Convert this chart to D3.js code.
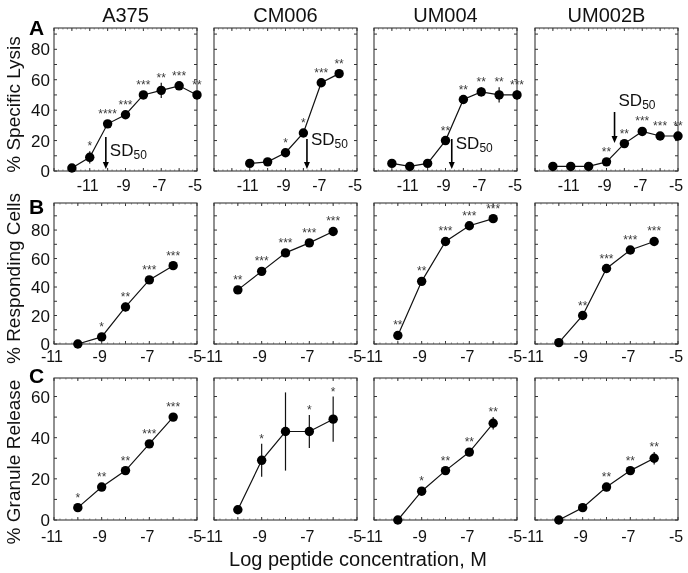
<!DOCTYPE html>
<html><head><meta charset="utf-8">
<script src="https://cdn.jsdelivr.net/npm/d3@7"></script>
<style>body{margin:0;background:#fff}svg{display:block;font-family:"Liberation Sans",Arial,sans-serif;will-change:transform;transform:translateZ(0)}</style>
</head><body>
<svg id="c" width="688" height="573"></svg>
<script>
// ---------- data ----------
const cellLines = ["A375", "CM006", "UM004", "UM002B"];
const rowLabels = ["A", "B", "C"];
const yTitles = ["% Specific Lysis", "% Responding Cells", "% Granule Release"];
const xTitle = "Log peptide concentration, M";
const xTickLabels = [-11, -9, -7, -5];

// Row A: specific lysis
const lysisX = [
  [-12, -11, -10, -9, -8, -7, -6, -5],
  [-11, -10, -9, -8, -7, -6],
  [-12, -11, -10, -9, -8, -7, -6, -5],
  [-12, -11, -10, -9, -8, -7, -6, -5]
];
const lysisY = [
  [2, 9, 31, 37, 50, 53, 56, 50],
  [5, 6, 12, 25, 58, 64],
  [5, 3, 5, 20, 47, 52, 50, 50],
  [3, 3, 3, 6, 18, 26, 23, 23]
];
const lysisErr = [
  [1, 4, 1, 1, 1, 5, 1, 2],
  [1, 1, 1, 2, 1, 1],
  [1, 1, 1, 1, 1, 3, 5, 3],
  [1, 1, 1, 1, 1, 1, 1, 1]
];
const lysisStars = [
  ["", "*", "****", "***", "***", "**", "***", "**"],
  ["", "", "*", "*", "***", "**"],
  ["", "", "", "**", "**", "**", "**", "***"],
  ["", "", "", "**", "**", "***", "***", "**"]
];
const sd50X = [-10.1, -7.8, -8.65, -8.55];

// Row B: responding cells
const respX = [-10, -9, -8, -7, -6];
const respY = [
  [0, 5, 26, 45, 55],
  [38, 51, 64, 71, 79],
  [6, 44, 72, 83, 88],
  [1, 20, 53, 66, 72]
];
const respErr = [
  [0, 1, 3, 1, 1],
  [1, 1, 1, 1, 1],
  [1, 2, 1, 1, 1],
  [0, 1, 1, 1, 1]
];
const respStars = [
  ["", "*", "**", "***", "***"],
  ["**", "***", "***", "***", "***"],
  ["**", "**", "***", "***", "***"],
  ["", "**", "***", "***", "***"]
];

// Row C: granule release
const granX = [-10, -9, -8, -7, -6];
const granY = [
  [6, 16, 24, 37, 50],
  [5, 29, 43, 43, 49],
  [0, 14, 24, 33, 47],
  [0, 6, 16, 24, 30]
];
const granErr = [
  [1, 1, 1, 1, 1],
  [0, 8, 19, 8, 11],
  [0, 1, 1, 2, 3],
  [0, 1, 2, 1, 3]
];
const granStars = [
  ["*", "**", "**", "***", "***"],
  ["", "*", "", "*", "*"],
  ["", "*", "**", "**", "**"],
  ["", "", "**", "**", "**"]
];

// ---------- layout ----------
const svg = d3.select("#c");
const colLeft = [54, 214, 374, 535];
const panelW = 143;
const rows = [
  {top: 28, bottom: 171, xDom: [-13, -5], yDom: [0, 94], yTicks: [0, 20, 40, 60, 80], X: lysisX, Y: lysisY, E: lysisErr, S: lysisStars, lab: 20, letterY: 35, titleDy: 5},
  {top: 203, bottom: 344, xDom: [-11, -5], yDom: [0, 99], yTicks: [0, 20, 40, 60, 80], X: [respX, respX, respX, respX], Y: respY, E: respErr, S: respStars, lab: 18, letterY: 214, titleDy: 5},
  {top: 378, bottom: 520, xDom: [-11, -5], yDom: [0, 69], yTicks: [0, 20, 40, 60], X: [granX, granX, granX, granX], Y: granY, E: granErr, S: granStars, lab: 22, letterY: 383, titleDy: 13}
];

rows.forEach((r, ri) => {
  cellLines.forEach((cl, ci) => {
    const x = d3.scaleLinear().domain(r.xDom).range([colLeft[ci], colLeft[ci] + panelW]);
    const y = d3.scaleLinear().domain(r.yDom).range([r.bottom, r.top]);
    const g = svg.append("g");
    g.append("rect").attr("x", x.range()[0]).attr("y", r.top)
      .attr("width", panelW).attr("height", r.bottom - r.top)
      .attr("fill", "none").attr("stroke", "#222").attr("stroke-width", 1);
    const xt = d3.range(Math.ceil(r.xDom[0]), r.xDom[1] + 0.01, 1);
    xt.forEach(v => {
      g.append("line").attr("x1", x(v)).attr("x2", x(v)).attr("y1", r.bottom).attr("y2", r.bottom - 3).attr("stroke", "#333");
      g.append("line").attr("x1", x(v)).attr("x2", x(v)).attr("y1", r.top).attr("y2", r.top + 3).attr("stroke", "#333");
    });
    const xm = d3.range(r.xDom[0], r.xDom[1], 0.25);
    xm.forEach(v => {
      g.append("line").attr("x1", x(v)).attr("x2", x(v)).attr("y1", r.top).attr("y2", r.top + 1.5).attr("stroke", "#555").attr("stroke-width", 0.7);
      g.append("line").attr("x1", x(v)).attr("x2", x(v)).attr("y1", r.bottom).attr("y2", r.bottom - 1.5).attr("stroke", "#555").attr("stroke-width", 0.7);
    });
    const yt = d3.range(0, r.yDom[1], 10);
    yt.forEach(v => {
      g.append("line").attr("x1", x.range()[0]).attr("x2", x.range()[0] + 3).attr("y1", y(v)).attr("y2", y(v)).attr("stroke", "#333");
      g.append("line").attr("x1", x.range()[1]).attr("x2", x.range()[1] - 3).attr("y1", y(v)).attr("y2", y(v)).attr("stroke", "#333");
    });
    xTickLabels.forEach(v => {
      g.append("text").attr("x", x(v) - 2).attr("y", r.bottom + r.lab)
        .attr("text-anchor", "middle").attr("font-size", 16).attr("fill", "#111").text(v);
    });
    if (ci === 0) {
      r.yTicks.forEach(v => {
        g.append("text").attr("x", x.range()[0] - 4).attr("y", y(v) + 6)
          .attr("text-anchor", "end").attr("font-size", 17).attr("fill", "#111").text(v);
      });
    }
    const xs = r.X[ci], ys = r.Y[ci], es = r.E[ci], ss = r.S[ci];
    const pts = xs.map((v, i) => ({x: v, y: ys[i], e: es[i], s: ss[i]}));
    g.append("path").datum(pts)
      .attr("d", d3.line().x(d => x(d.x)).y(d => y(d.y)))
      .attr("fill", "none").attr("stroke", "#111").attr("stroke-width", 1.2);
    g.selectAll(".eb").data(pts).join("line")
      .attr("x1", d => x(d.x)).attr("x2", d => x(d.x))
      .attr("y1", d => y(d.y - d.e)).attr("y2", d => y(d.y + d.e))
      .attr("stroke", "#111").attr("stroke-width", 1.2);
    g.selectAll(".pt").data(pts).join("circle")
      .attr("cx", d => x(d.x)).attr("cy", d => y(d.y)).attr("r", 4.7).attr("fill", "#000");
    g.selectAll(".st").data(pts).join("text")
      .attr("x", d => x(d.x)).attr("y", d => Math.min(y(d.y + d.e), y(d.y) - 5) - 1)
      .attr("text-anchor", "middle").attr("font-size", 12).attr("fill", "#3a3a3a").text(d => d.s);
    if (ri === 0) {
      const ax = x(sd50X[ci]);
      const isLast = ci === 3;
      const y1 = isLast ? 112 : (ci === 0 ? 137 : 139);
      const y2 = isLast ? 143 : 169;
      g.append("line").attr("x1", ax).attr("x2", ax).attr("y1", y1).attr("y2", y2 - 6)
        .attr("stroke", "#000").attr("stroke-width", 1.6);
      g.append("path").attr("d", `M${ax - 3},${y2 - 7}L${ax + 3},${y2 - 7}L${ax},${y2}Z`).attr("fill", "#000");
      const tx = ax + 4, ty = isLast ? 106 : (ci === 0 ? 156 : (ci === 1 ? 145 : 149));
      const t = g.append("text").attr("x", tx).attr("y", ty).attr("font-size", 17).attr("fill", "#111");
      t.append("tspan").text("SD");
      t.append("tspan").attr("font-size", 12).attr("dy", 3).text("50");
    }
    if (ri === 0) {
      svg.append("text").attr("x", colLeft[ci] + panelW / 2).attr("y", 22)
        .attr("text-anchor", "middle").attr("font-size", 20).attr("fill", "#111").text(cl);
    }
  });
  svg.append("text").attr("x", 29).attr("y", r.letterY).attr("font-size", 21)
    .attr("font-weight", "bold").attr("fill", "#000").text(rowLabels[ri]);
  svg.append("text").attr("transform", `translate(20,${(r.top + r.bottom) / 2 + r.titleDy}) rotate(-90)`)
    .attr("text-anchor", "middle").attr("font-size", 19).attr("fill", "#111").text(yTitles[ri]);
});
svg.append("text").attr("x", 358).attr("y", 566).attr("text-anchor", "middle")
  .attr("font-size", 20).attr("fill", "#111").text(xTitle);
</script>
</body></html>
